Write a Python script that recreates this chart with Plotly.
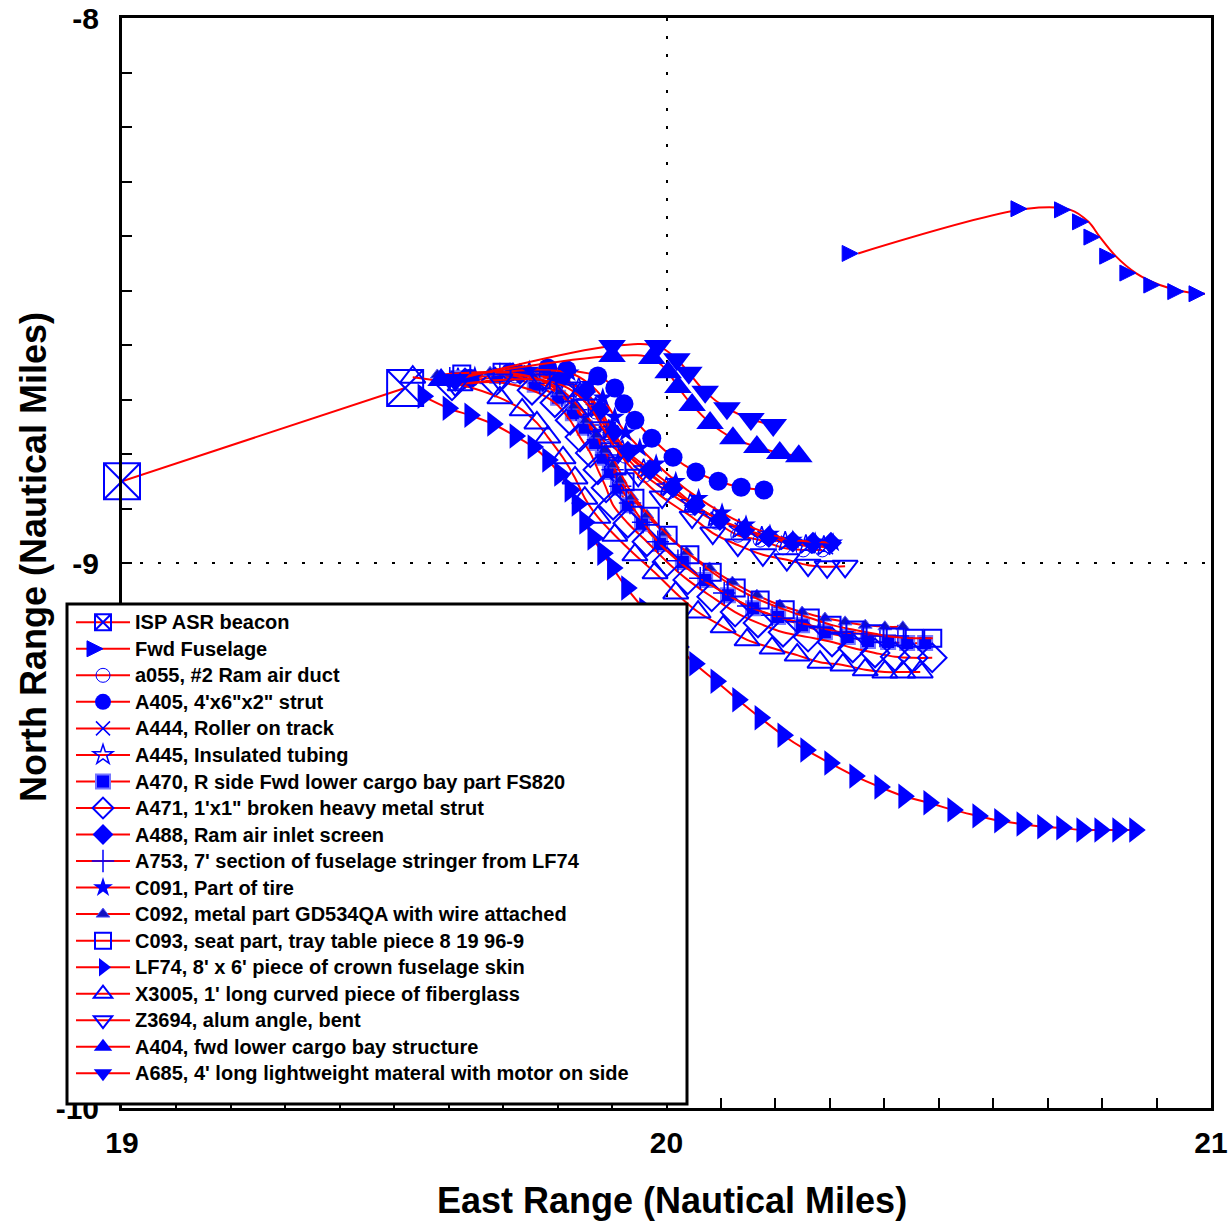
import plotly.graph_objects as go

# ---------------- data (East range x, North range y, nautical miles) ----------------
beacon_x = [19.000, 19.520]
beacon_y = [-8.850, -8.679]

fwd_x = [20.352, 20.662, 20.742, 20.775, 20.796, 20.825, 20.862, 20.906, 20.950, 20.989]
fwd_y = [-8.432, -8.350, -8.352, -8.374, -8.402, -8.437, -8.468, -8.490, -8.502, -8.506]

a055_x = [19.621, 19.722, 19.795, 19.841, 19.870, 19.896, 19.924, 19.960, 20.003, 20.047, 20.091, 20.131, 20.172, 20.214, 20.251, 20.286]
a055_y = [-8.668, -8.657, -8.664, -8.686, -8.723, -8.765, -8.804, -8.839, -8.870, -8.899, -8.925, -8.949, -8.958, -8.972, -8.976, -8.976]

a405_x = [19.639, 19.713, 19.782, 19.817, 19.874, 19.905, 19.922, 19.942, 19.973, 20.012, 20.054, 20.095, 20.137, 20.179]
a405_y = [-8.661, -8.650, -8.642, -8.646, -8.657, -8.679, -8.708, -8.738, -8.771, -8.806, -8.833, -8.850, -8.861, -8.866]

a444_x = [19.624, 19.727, 19.799, 19.845, 19.874, 19.898, 19.925, 19.964, 20.006, 20.050, 20.094, 20.138, 20.180, 20.223, 20.260, 20.293]
a444_y = [-8.664, -8.650, -8.659, -8.683, -8.719, -8.760, -8.796, -8.831, -8.864, -8.894, -8.919, -8.939, -8.954, -8.963, -8.969, -8.971]

a445_x = [19.617, 19.718, 19.791, 19.839, 19.870, 19.894, 19.919, 19.958, 20.000, 20.044, 20.088, 20.133, 20.175, 20.218, 20.256, 20.289]
a445_y = [-8.661, -8.652, -8.657, -8.679, -8.714, -8.756, -8.793, -8.828, -8.861, -8.890, -8.916, -8.938, -8.952, -8.961, -8.967, -8.969]

a470_x = [19.615, 19.689, 19.758, 19.801, 19.828, 19.850, 19.869, 19.883, 19.896, 19.911, 19.929, 19.955, 19.988, 20.030, 20.071, 20.113, 20.159, 20.205, 20.249, 20.291, 20.333, 20.370, 20.407, 20.442, 20.475]
a470_y = [-8.661, -8.657, -8.673, -8.697, -8.725, -8.752, -8.780, -8.807, -8.833, -8.862, -8.894, -8.928, -8.965, -8.998, -9.031, -9.059, -9.083, -9.099, -9.114, -9.127, -9.136, -9.143, -9.145, -9.147, -9.147]

a471_x = [19.606, 19.685, 19.753, 19.795, 19.823, 19.841, 19.860, 19.874, 19.889, 19.902, 19.929, 19.964, 20.001, 20.039, 20.083, 20.126, 20.168, 20.214, 20.260, 20.304, 20.342, 20.383, 20.420, 20.453, 20.488]
a471_y = [-8.675, -8.668, -8.683, -8.706, -8.738, -8.769, -8.798, -8.829, -8.862, -8.894, -8.927, -8.961, -8.998, -9.031, -9.062, -9.090, -9.110, -9.127, -9.136, -9.145, -9.156, -9.165, -9.172, -9.174, -9.174]

a488_x = [19.630, 19.731, 19.804, 19.850, 19.878, 19.902, 19.929, 19.970, 20.012, 20.052, 20.098, 20.144, 20.188, 20.232, 20.269, 20.302]
a488_y = [-8.661, -8.653, -8.664, -8.686, -8.719, -8.760, -8.796, -8.829, -8.861, -8.894, -8.921, -8.938, -8.952, -8.961, -8.963, -8.963]

a753_x = [19.602, 19.694, 19.767, 19.808, 19.834, 19.856, 19.874, 19.889, 19.901, 19.915, 19.933, 19.957, 19.984, 20.021, 20.062, 20.106, 20.150, 20.194, 20.240, 20.282, 20.322, 20.359, 20.392, 20.425]
a753_y = [-8.661, -8.653, -8.670, -8.694, -8.719, -8.747, -8.774, -8.802, -8.829, -8.859, -8.890, -8.925, -8.961, -8.996, -9.028, -9.055, -9.079, -9.096, -9.108, -9.119, -9.127, -9.130, -9.134, -9.134]

c091_x = [19.648, 19.748, 19.822, 19.859, 19.883, 19.905, 19.925, 19.951, 19.981, 20.017, 20.059, 20.102, 20.146, 20.190, 20.232, 20.273, 20.306]
c091_y = [-8.657, -8.646, -8.651, -8.672, -8.697, -8.732, -8.761, -8.789, -8.818, -8.850, -8.881, -8.908, -8.930, -8.947, -8.958, -8.961, -8.963]

c092_x = [19.579, 19.676, 19.758, 19.804, 19.830, 19.852, 19.871, 19.886, 19.901, 19.915, 19.936, 19.964, 19.996, 20.037, 20.079, 20.121, 20.166, 20.208, 20.249, 20.291, 20.328, 20.365, 20.401, 20.434]
c092_y = [-8.655, -8.650, -8.661, -8.686, -8.712, -8.738, -8.765, -8.793, -8.820, -8.848, -8.879, -8.912, -8.945, -8.980, -9.009, -9.035, -9.059, -9.077, -9.090, -9.101, -9.108, -9.114, -9.117, -9.117]

c093_x = [19.624, 19.698, 19.770, 19.814, 19.841, 19.863, 19.882, 19.896, 19.909, 19.924, 19.942, 19.970, 20.003, 20.043, 20.084, 20.128, 20.172, 20.218, 20.264, 20.304, 20.346, 20.383, 20.420, 20.455, 20.489]
c093_y = [-8.653, -8.650, -8.664, -8.688, -8.716, -8.743, -8.771, -8.796, -8.822, -8.851, -8.881, -8.914, -8.949, -8.985, -9.017, -9.046, -9.068, -9.086, -9.101, -9.114, -9.123, -9.130, -9.136, -9.138, -9.138]

lf74_x = [19.553, 19.599, 19.639, 19.681, 19.722, 19.755, 19.782, 19.804, 19.823, 19.836, 19.850, 19.865, 19.883, 19.901, 19.927, 19.960, 19.994, 20.023, 20.052, 20.091, 20.131, 20.172, 20.214, 20.256, 20.300, 20.346, 20.392, 20.436, 20.482, 20.526, 20.572, 20.612, 20.653, 20.691, 20.726, 20.763, 20.796, 20.829, 20.860]
lf74_y = [-8.694, -8.716, -8.729, -8.745, -8.767, -8.787, -8.811, -8.837, -8.866, -8.892, -8.925, -8.954, -8.982, -9.009, -9.046, -9.086, -9.123, -9.154, -9.185, -9.217, -9.251, -9.284, -9.316, -9.343, -9.367, -9.391, -9.411, -9.428, -9.440, -9.453, -9.464, -9.473, -9.479, -9.484, -9.486, -9.490, -9.490, -9.490, -9.490]

x3005_x = [19.534, 19.621, 19.694, 19.735, 19.762, 19.782, 19.810, 19.832, 19.850, 19.874, 19.905, 19.942, 19.979, 20.017, 20.058, 20.104, 20.148, 20.194, 20.240, 20.282, 20.324, 20.365, 20.401, 20.434, 20.466]
x3005_y = [-8.659, -8.673, -8.697, -8.719, -8.743, -8.769, -8.807, -8.844, -8.881, -8.916, -8.949, -8.985, -9.018, -9.055, -9.090, -9.117, -9.141, -9.156, -9.169, -9.182, -9.187, -9.196, -9.200, -9.200, -9.200]

z3694_x = [19.612, 19.694, 19.773, 19.819, 19.856, 19.883, 19.911, 19.948, 19.992, 20.047, 20.085, 20.131, 20.177, 20.221, 20.260, 20.295, 20.328]
z3694_y = [-8.673, -8.664, -8.664, -8.679, -8.710, -8.752, -8.796, -8.839, -8.879, -8.916, -8.945, -8.967, -8.985, -8.994, -9.004, -9.007, -9.006]

a404_x = [19.586, 19.900, 19.973, 20.003, 20.021, 20.047, 20.080, 20.122, 20.166, 20.208, 20.243]
a404_y = [-8.664, -8.620, -8.624, -8.650, -8.677, -8.710, -8.743, -8.771, -8.787, -8.798, -8.804]

a685_x = [19.612, 19.900, 19.984, 20.019, 20.041, 20.071, 20.111, 20.155, 20.196]
a685_y = [-8.664, -8.602, -8.602, -8.626, -8.651, -8.686, -8.716, -8.736, -8.747]

names = [
    "ISP ASR beacon",
    "Fwd Fuselage",
    "a055, #2 Ram air duct",
    "A405, 4'x6\"x2\" strut",
    "A444, Roller on track",
    "A445, Insulated tubing",
    "A470, R side Fwd lower cargo bay part FS820",
    "A471, 1'x1\" broken heavy metal strut",
    "A488, Ram air inlet screen",
    "A753, 7' section of fuselage stringer from LF74",
    "C091, Part of tire",
    "C092, metal part GD534QA with wire attached",
    "C093, seat part, tray table piece 8 19 96-9",
    "LF74, 8' x 6' piece of crown fuselage skin",
    "X3005, 1' long curved piece of fiberglass",
    "Z3694, alum angle, bent",
    "A404, fwd lower cargo bay structure",
    "A685, 4' long lightweight materal with motor on side",
]

x_ticks = [19, 20, 21]
x_tick_labels = ["19", "20", "21"]
y_ticks = [-8, -9, -10]
y_tick_labels = ["-8", "-9", "-10"]

# ---------------- styling ----------------
BLUE = "#0000FF"
RED = "#FF0000"
FONT = "Liberation Sans"

series = [
    (beacon_x, beacon_y, dict(symbol="square-x-open", size=36, color=BLUE, line=dict(color=BLUE, width=2))),
    (fwd_x, fwd_y, dict(symbol="arrow-right", size=16, color=BLUE, line=dict(color=BLUE, width=1))),
    (a055_x, a055_y, dict(symbol="circle-open", size=14, color=BLUE, line=dict(color=BLUE, width=1))),
    (a405_x, a405_y, dict(symbol="circle", size=19, color=BLUE, line=dict(width=0))),
    (a444_x, a444_y, dict(symbol="x-thin-open", size=14, color=BLUE, line=dict(color=BLUE, width=1.5))),
    (a445_x, a445_y, dict(symbol="star-open", size=15, color=BLUE, line=dict(color=BLUE, width=1.5))),
    (a470_x, a470_y, dict(symbol="square", size=14, color=BLUE, line=dict(color="#7777FF", width=2))),
    (a471_x, a471_y, dict(symbol="diamond-open", size=22, color=BLUE, line=dict(color=BLUE, width=2))),
    (a488_x, a488_y, dict(symbol="diamond", size=17, color=BLUE, line=dict(width=0))),
    (a753_x, a753_y, dict(symbol="cross-thin-open", size=16, color=BLUE, line=dict(color=BLUE, width=1.5))),
    (c091_x, c091_y, dict(symbol="star", size=15, color=BLUE, line=dict(width=0))),
    (c092_x, c092_y, dict(symbol="triangle-up", size=12, color="#1010C0", line=dict(color="#5555FF", width=1))),
    (c093_x, c093_y, dict(symbol="square-open", size=17, color=BLUE, line=dict(color=BLUE, width=2))),
    (lf74_x, lf74_y, dict(symbol="triangle-right", size=22, color=BLUE, line=dict(width=0))),
    (x3005_x, x3005_y, dict(symbol="triangle-up-open", size=22, color=BLUE, line=dict(color=BLUE, width=2))),
    (z3694_x, z3694_y, dict(symbol="triangle-down-open", size=22, color=BLUE, line=dict(color=BLUE, width=2))),
    (a404_x, a404_y, dict(symbol="triangle-up", size=24, color=BLUE, line=dict(width=0))),
    (a685_x, a685_y, dict(symbol="triangle-down", size=24, color=BLUE, line=dict(width=0))),
]

fig = go.Figure()
for name, (xs, ys, mk) in zip(names, series):
    fig.add_trace(go.Scatter(
        x=xs, y=ys, name='<span style="font-size:20px">' + name + '</span>',
        mode="lines+markers",
        line=dict(color=RED, width=2, shape="spline", smoothing=1.0),
        marker=mk, cliponaxis=False,
    ))

W, H = 1231, 1225
L, R, T, B = 122, 20, 18, 117
pw, ph = W - L - R, H - T - B

def px_x(p):
    return (p - L) / pw

def px_y(p):
    return (H - B - p) / ph

axis_common = dict(
    showline=True, linecolor="black", linewidth=3, mirror=True,
    ticks="inside", ticklen=10, tickwidth=2, tickcolor="black",
    showgrid=True, gridcolor="black", gridwidth=2, griddash="3px,15px",
    zeroline=False, automargin=False,
    tickfont=dict(family=FONT, size=30, color="black", weight="bold"),
)

fig.update_xaxes(
    range=[19, 21], tickmode="array", tickvals=x_ticks, ticktext=x_tick_labels,
    minor=dict(ticks="inside", ticklen=10, tickwidth=2, tickcolor="black", tick0=19, dtick=0.1, showgrid=False),
    ticklabelstandoff=6, **axis_common,
)
fig.update_yaxes(
    range=[-10, -8], tickmode="array", tickvals=y_ticks, ticktext=y_tick_labels,
    minor=dict(ticks="inside", ticklen=10, tickwidth=2, tickcolor="black", tick0=-10, dtick=0.1, showgrid=False),
    ticklabelstandoff=14, **axis_common,
)

# legend box
fig.add_shape(type="rect", xref="paper", yref="paper",
              x0=px_x(67), x1=px_x(687), y0=px_y(1104), y1=px_y(604),
              fillcolor="white", line=dict(color="black", width=3), layer="above")

fig.update_layout(
    width=W, height=H,
    margin=dict(l=L, r=R, t=T, b=B, autoexpand=False),
    paper_bgcolor="white", plot_bgcolor="white",
    showlegend=True,
    legend=dict(
        x=px_x(71), y=px_y(604), xanchor="left", yanchor="top",
        bgcolor="rgba(0,0,0,0)", borderwidth=0,
        font=dict(family=FONT, size=18.1, color="black", weight="bold"),
        itemwidth=54, tracegroupgap=0,
    ),
    annotations=[
        dict(text="East Range (Nautical Miles)", xref="paper", yref="paper",
             x=px_x(672), y=px_y(1200), xanchor="center", yanchor="middle", showarrow=False,
             font=dict(family=FONT, size=36, color="black", weight="bold")),
        dict(text="North Range (Nautical Miles)", xref="paper", yref="paper",
             x=px_x(33), y=px_y(557), xanchor="center", yanchor="middle", showarrow=False,
             textangle=-90, font=dict(family=FONT, size=36, color="black", weight="bold")),
    ],
)

fig.write_html("out.html")
